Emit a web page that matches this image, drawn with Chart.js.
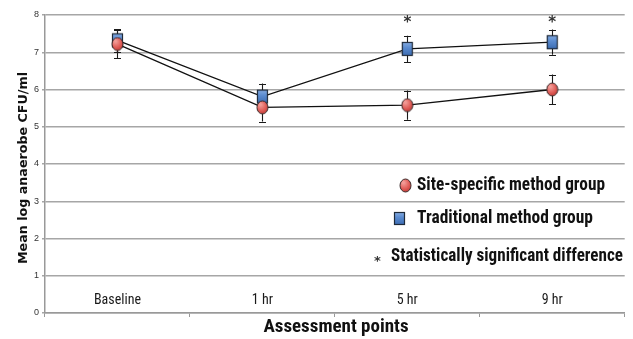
<!DOCTYPE html>
<html>
<head>
<meta charset="utf-8">
<script src="https://cdn.jsdelivr.net/npm/chart.js@4/dist/chart.umd.min.js"></script>
<style>
  html, body { margin: 0; padding: 0; background: #ffffff; }
  #wrap { width: 633px; height: 339px; position: relative; }
</style>
</head>
<body>
<div id="wrap"><canvas id="c" width="633" height="339"></canvas></div>
<script>
// Assessment points on the x axis
const categories = ['Baseline', '1 hr', '5 hr', '9 hr'];
// Mean log anaerobe CFU/ml per group, with error-bar half widths
const siteSpecific = [7.22, 5.52, 5.58, 6.00];
const siteSpecificErr = [0.38, 0.38, 0.39, 0.40];
const traditional = [7.32, 5.81, 7.09, 7.27];
const traditionalErr = [0.30, 0.35, 0.35, 0.34];
// Points where the difference between groups is significant
const significant = [false, false, true, true];
const sigLevel = 7.83;
const yTicks = [0, 1, 2, 3, 4, 5, 6, 7, 8];

const seriesNames = ['Site-specific method group', 'Traditional method group'];
const sigNote = 'Statistically significant difference';

const NARROW = '"Liberation Sans Narrow", "Arial Narrow", "Roboto Condensed", "Liberation Sans", sans-serif';

// Marker images: shaded red ellipse and shaded blue box
function makeEllipse(w, h) {
  const c = document.createElement('canvas');
  c.width = w + 2; c.height = h + 2;
  const g = c.getContext('2d');
  const grad = g.createRadialGradient(w * 0.4, h * 0.35, 1, w / 2, h / 2, h / 1.6);
  grad.addColorStop(0, '#f29a95');
  grad.addColorStop(0.6, '#df5a55');
  grad.addColorStop(1, '#b83a36');
  g.beginPath();
  g.ellipse(c.width / 2, c.height / 2, w / 2, h / 2, 0, 0, Math.PI * 2);
  g.fillStyle = grad; g.fill();
  g.lineWidth = 1; g.strokeStyle = '#3a2a2a'; g.stroke();
  return c;
}
function makeBox(w, h) {
  const c = document.createElement('canvas');
  c.width = w + 2; c.height = h + 2;
  const g = c.getContext('2d');
  const grad = g.createLinearGradient(0, 0, 0, h);
  grad.addColorStop(0, '#8fb3e6');
  grad.addColorStop(0.5, '#5a8bd0');
  grad.addColorStop(1, '#3f6fb5');
  g.fillStyle = grad;
  g.fillRect(1, 1, w, h);
  g.lineWidth = 1.2; g.strokeStyle = '#1e2a3a';
  g.strokeRect(1.5, 1.5, w - 1, h - 1);
  return c;
}
const circleMark = makeEllipse(11, 13);
const boxMark = makeBox(11, 14);
const circleLegend = makeEllipse(11, 13);
const boxLegend = makeBox(11, 13);

const errorData = [siteSpecificErr, traditionalErr];

// Error bars drawn behind the markers
const errorBars = {
  id: 'errorBars',
  beforeDatasetsDraw(chart) {
    const ctx = chart.ctx;
    const y = chart.scales.y;
    ctx.save();
    ctx.strokeStyle = '#1a1a1a';
    ctx.lineWidth = 1.1;
    chart.data.datasets.forEach((ds, di) => {
      const meta = chart.getDatasetMeta(di);
      meta.data.forEach((pt, i) => {
        const v = ds.data[i], e = errorData[di][i];
        const top = y.getPixelForValue(v + e), bot = y.getPixelForValue(v - e);
        const x = Math.round(pt.x) + 0.5;
        ctx.beginPath();
        ctx.moveTo(x, top); ctx.lineTo(x, bot);
        ctx.moveTo(x - 3.5, Math.round(top) + 0.5); ctx.lineTo(x + 3.5, Math.round(top) + 0.5);
        ctx.moveTo(x - 3.5, Math.round(bot) + 0.5); ctx.lineTo(x + 3.5, Math.round(bot) + 0.5);
        ctx.stroke();
      });
    });
    ctx.restore();
  }
};

// Category labels inside the plot, asterisks, legend box text and axis titles
const annotations = {
  id: 'annotations',
  afterDraw(chart) {
    const ctx = chart.ctx;
    const xs = chart.scales.x, ys = chart.scales.y;
    ctx.save();

    // Category labels sit just above the zero line
    ctx.fillStyle = '#1a1a1a';
    ctx.font = '14px ' + NARROW;
    ctx.textAlign = 'center';
    ctx.textBaseline = 'middle';
    categories.forEach((c, i) => {
      ctx.fillText(c, xs.getPixelForValue(i), ys.getPixelForValue(0) - 13);
    });

    // Significance asterisks on a common level near the top
    ctx.font = 'bold 15px "DejaVu Sans", sans-serif';
    ctx.fillStyle = '#333';
    significant.forEach((s, i) => {
      if (!s) return;
      ctx.fillText('*', xs.getPixelForValue(i), ys.getPixelForValue(sigLevel) + 2);
    });

    // Legend
    ctx.textAlign = 'left';
    ctx.fillStyle = '#111';
    ctx.font = 'bold 18px ' + NARROW;
    ctx.drawImage(circleLegend, 399, 178);
    ctx.fillText(seriesNames[0], 417, 185, 188);
    ctx.drawImage(boxLegend, 393, 211);
    ctx.fillText(seriesNames[1], 417, 218, 176);
    ctx.font = 'bold 13px "DejaVu Sans", sans-serif';
    ctx.fillStyle = '#333';
    ctx.fillText('*', 374, 262);
    ctx.fillStyle = '#111';
    ctx.font = 'bold 18px ' + NARROW;
    ctx.fillText(sigNote, 391, 256, 232);

    // Axis titles
    ctx.textAlign = 'center';
    ctx.font = 'bold 19px ' + NARROW;
    ctx.fillText('Assessment points', 336, 327);
    ctx.save();
    ctx.translate(24, 168);
    ctx.rotate(-Math.PI / 2);
    ctx.font = 'bold 13px "DejaVu Sans", sans-serif';
    ctx.fillText('Mean log anaerobe CFU/ml', 0, 0, 192);
    ctx.restore();

    ctx.restore();
  }
};

new Chart(document.getElementById('c'), {
  type: 'line',
  data: {
    labels: categories,
    datasets: [
      {
        label: seriesNames[0],
        data: siteSpecific,
        borderColor: '#111',
        borderWidth: 1.3,
        pointStyle: circleMark,
        pointRadius: 7,
        fill: false,
        tension: 0
      },
      {
        label: seriesNames[1],
        data: traditional,
        borderColor: '#111',
        borderWidth: 1.3,
        pointStyle: boxMark,
        pointRadius: 7,
        fill: false,
        tension: 0
      }
    ]
  },
  plugins: [errorBars, annotations],
  options: {
    responsive: false,
    animation: false,
    layout: { padding: { top: 15, right: 0, left: 0, bottom: 0 } },
    plugins: { legend: { display: false }, tooltip: { enabled: false } },
    scales: {
      x: {
        type: 'category',
        offset: true,
        grid: { display: true, drawOnChartArea: false, drawTicks: true, tickLength: 4, offset: true, color: '#999' },
        border: { display: true, color: '#999', width: 1.5 },
        ticks: { display: false },
        afterFit(scale) { scale.height = 26; }
      },
      y: {
        min: 0,
        max: 8,
        afterBuildTicks(scale) { scale.ticks = yTicks.map(v => ({ value: v })); },
        grid: { color: '#a6a6a6', lineWidth: 1.5, tickLength: 3 },
        border: { display: true, color: '#999', width: 1.5 },
        ticks: { font: { size: 9, family: '"Liberation Sans", sans-serif' }, color: '#333', padding: 3 },
        afterFit(scale) { scale.width = 45; }
      }
    }
  }
});
</script>
</body>
</html>
